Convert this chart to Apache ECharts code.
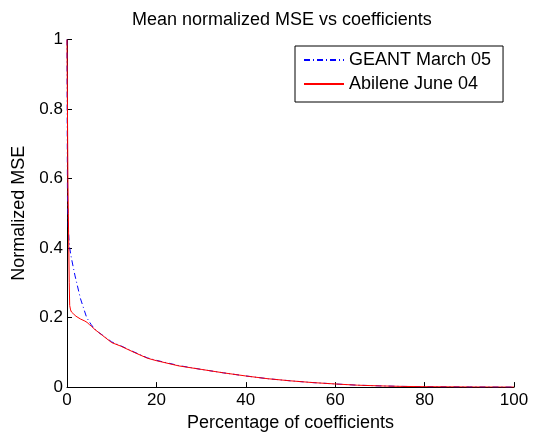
<!DOCTYPE html>
<html>
<head>
<meta charset="utf-8">
<script src="https://cdn.jsdelivr.net/npm/echarts@6/dist/echarts.min.js"></script>
<style>html,body{margin:0;padding:0;background:#fff}#c{width:542px;height:437px}</style>
</head>
<body>
<div id="c"></div>
<script>
const titleText = 'Mean normalized MSE vs coefficients';
const xName = 'Percentage of coefficients';
const yName = 'Normalized MSE';
const seriesNames = ['GEANT March 05', 'Abilene June 04'];

const geantX = [0, 0.05, 0.1, 0.2, 0.3, 0.45, 0.6, 1, 1.8, 3, 4.4, 5.4, 6, 7, 8, 10, 12, 15, 18, 20, 25, 30, 35, 40, 45, 50, 55, 60, 65, 70, 75, 80, 90, 100];
const geantY = [1.0, 0.75, 0.55, 0.5, 0.46, 0.42, 0.40, 0.37, 0.32, 0.255, 0.2, 0.18, 0.17, 0.158, 0.149, 0.13, 0.119, 0.101, 0.084, 0.077, 0.062, 0.051, 0.041, 0.032, 0.024, 0.018, 0.013, 0.009, 0.0055, 0.0035, 0.002, 0.0012, 0.0004, 0];

const abileneX = [0, 0.1, 0.2, 0.3, 0.4, 0.5, 0.6, 0.8, 1, 1.5, 2, 3, 4, 4.5, 5, 5.5, 6, 7, 8, 10, 12, 15, 18, 20, 25, 30, 35, 40, 45, 50, 55, 60, 65, 70, 75, 80, 90, 100];
const abileneY = [1.0, 0.8, 0.6, 0.5, 0.4, 0.3, 0.235, 0.222, 0.216, 0.21, 0.204, 0.196, 0.19, 0.186, 0.18, 0.175, 0.168, 0.158, 0.148, 0.128, 0.118, 0.1, 0.083, 0.076, 0.061, 0.051, 0.041, 0.032, 0.024, 0.018, 0.013, 0.009, 0.0055, 0.0035, 0.002, 0.0012, 0.0004, 0];

const pair = (xs, ys) => xs.map((x, i) => [x, ys[i]]);
const FONT = 'Liberation Sans, Arial, sans-serif';

const chart = echarts.init(document.getElementById('c'), null, {renderer: 'canvas'});
chart.setOption({
  animation: false,
  backgroundColor: '#fff',
  title: {
    text: titleText, left: 127, top: 6,
    textStyle: {fontFamily: FONT, fontSize: 18, fontWeight: 'normal', color: '#000'}
  },
  legend: {
    orient: 'vertical', left: 295, top: 46,
    padding: [5, 12, 9, 8], itemGap: 6, itemWidth: 40, itemHeight: 20,
    borderColor: '#000', borderWidth: 1, backgroundColor: '#fff',
    itemStyle: {opacity: 0},
    textStyle: {fontFamily: FONT, fontSize: 18, color: '#000'},
    data: seriesNames
  },
  grid: {left: 67, right: 28, top: 39.5, bottom: 48},
  xAxis: {
    type: 'value', min: 0, max: 100, interval: 20,
    name: xName, nameLocation: 'middle', nameGap: 26,
    nameTextStyle: {fontFamily: FONT, fontSize: 18, color: '#000'},
    axisLine: {lineStyle: {color: '#000', width: 1}},
    axisTick: {inside: true, length: 5, lineStyle: {color: '#000'}},
    axisLabel: {fontFamily: FONT, fontSize: 17, color: '#000', margin: 5},
    splitLine: {show: false}
  },
  yAxis: {
    type: 'value', min: 0, max: 1, interval: 0.2,
    name: yName, nameLocation: 'middle', nameGap: 38,
    nameTextStyle: {fontFamily: FONT, fontSize: 18, color: '#000'},
    axisLine: {show: true, lineStyle: {color: '#000', width: 1}},
    axisTick: {show: true, inside: true, length: 5, lineStyle: {color: '#000'}},
    axisLabel: {fontFamily: FONT, fontSize: 17, color: '#000', margin: 4},
    splitLine: {show: false}
  },
  series: [
    {
      name: seriesNames[0], type: 'line', showSymbol: false, symbol: 'none',
      data: pair(geantX, geantY),
      lineStyle: {color: '#0000ff', width: 1, type: [6, 3, 1, 3]},
      itemStyle: {color: '#0000ff'}
    },
    {
      name: seriesNames[1], type: 'line', showSymbol: false, symbol: 'none',
      data: pair(abileneX, abileneY),
      lineStyle: {color: '#ff0000', width: 1},
      itemStyle: {color: '#ff0000'}
    }
  ]
});
</script>
</body>
</html>
